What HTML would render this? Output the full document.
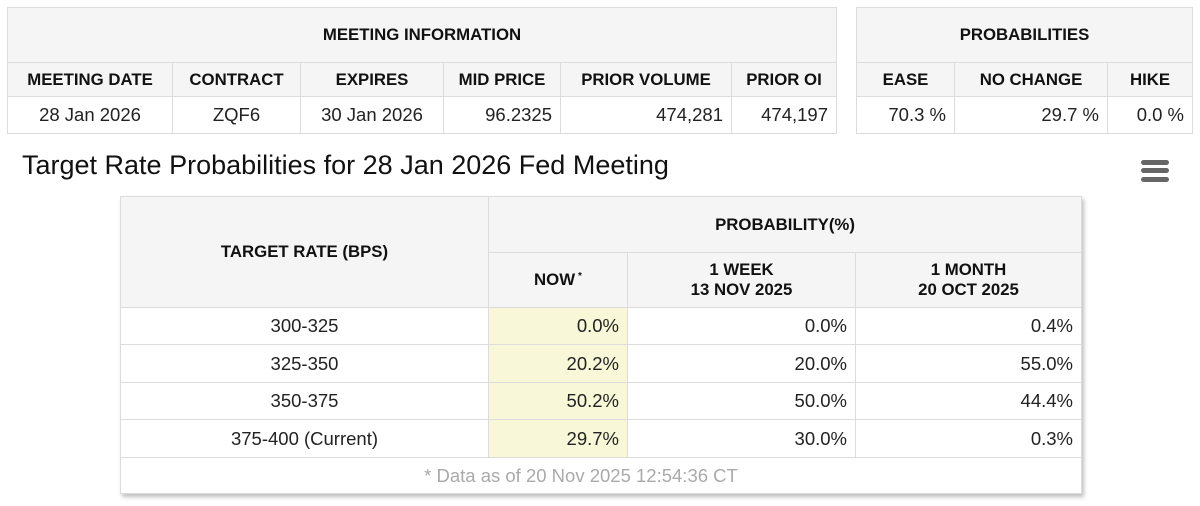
<!DOCTYPE html>
<html><head><meta charset="utf-8"><style>
body{margin:0;width:1200px;height:506px;background:#fff;position:relative;overflow:hidden;font-family:"Liberation Sans",Arial,sans-serif;color:#222}
.c{position:absolute;box-sizing:border-box;display:flex;align-items:center;justify-content:center;border:1px solid #dcdcdc;font-size:18.5px}
.h{background:#f5f5f5;font-weight:bold;font-size:16.8px;color:#111;text-align:center;line-height:20px}
.r{justify-content:flex-end;padding-right:8px}
.y{background:#f8f8d8}
</style></head><body>
<!-- table 1 -->
<div class="c h" style="left:7px;top:7px;width:830px;height:56px">MEETING INFORMATION</div>
<div class="c h" style="left:7px;top:62px;width:166px;height:35px">MEETING DATE</div>
<div class="c h" style="left:172px;top:62px;width:129px;height:35px">CONTRACT</div>
<div class="c h" style="left:300px;top:62px;width:144px;height:35px">EXPIRES</div>
<div class="c h" style="left:443px;top:62px;width:118px;height:35px">MID PRICE</div>
<div class="c h" style="left:560px;top:62px;width:172px;height:35px">PRIOR VOLUME</div>
<div class="c h" style="left:731px;top:62px;width:106px;height:35px">PRIOR OI</div>
<div class="c" style="left:7px;top:96px;width:166px;height:38px">28 Jan 2026</div>
<div class="c" style="left:172px;top:96px;width:129px;height:38px">ZQF6</div>
<div class="c" style="left:300px;top:96px;width:144px;height:38px">30 Jan 2026</div>
<div class="c r" style="left:443px;top:96px;width:118px;height:38px">96.2325</div>
<div class="c r" style="left:560px;top:96px;width:172px;height:38px">474,281</div>
<div class="c r" style="left:731px;top:96px;width:106px;height:38px">474,197</div>
<!-- table 2 -->
<div class="c h" style="left:856px;top:7px;width:337px;height:56px">PROBABILITIES</div>
<div class="c h" style="left:856px;top:62px;width:99px;height:35px">EASE</div>
<div class="c h" style="left:954px;top:62px;width:154px;height:35px">NO CHANGE</div>
<div class="c h" style="left:1107px;top:62px;width:86px;height:35px">HIKE</div>
<div class="c r" style="left:856px;top:96px;width:99px;height:38px">70.3 %</div>
<div class="c r" style="left:954px;top:96px;width:154px;height:38px">29.7 %</div>
<div class="c r" style="left:1107px;top:96px;width:86px;height:38px">0.0 %</div>
<!-- title -->
<div style="position:absolute;left:22px;top:150px;font-size:27px;color:#111;white-space:nowrap">Target Rate Probabilities for 28 Jan 2026 Fed Meeting</div>
<div style="position:absolute;left:1141px;top:160px;width:28px;height:5px;background:#666;border-radius:3px"></div>
<div style="position:absolute;left:1141px;top:168px;width:28px;height:5px;background:#666;border-radius:3px"></div>
<div style="position:absolute;left:1141px;top:177px;width:28px;height:5px;background:#666;border-radius:3px"></div>
<!-- table 3 -->
<div style="position:absolute;left:120px;top:196px;width:962px;height:298px;box-shadow:2px 3px 4px rgba(0,0,0,0.25)"></div>
<div class="c h" style="left:120px;top:196px;width:369px;height:112px">TARGET RATE (BPS)</div>
<div class="c h" style="left:488px;top:196px;width:594px;height:57px">PROBABILITY(%)</div>
<div class="c h" style="left:488px;top:252px;width:140px;height:56px">NOW<sup style="font-size:10px;position:relative;top:-3px;margin-left:3px">*</sup></div>
<div class="c h" style="left:627px;top:252px;width:229px;height:56px">1 WEEK<br>13 NOV 2025</div>
<div class="c h" style="left:855px;top:252px;width:227px;height:56px">1 MONTH<br>20 OCT 2025</div>

<div class="c" style="left:120px;top:307px;width:369px;height:38px">300-325</div>
<div class="c r y" style="left:488px;top:307px;width:140px;height:38px">0.0%</div>
<div class="c r" style="left:627px;top:307px;width:229px;height:38px">0.0%</div>
<div class="c r" style="left:855px;top:307px;width:227px;height:38px">0.4%</div>

<div class="c" style="left:120px;top:344px;width:369px;height:39px">325-350</div>
<div class="c r y" style="left:488px;top:344px;width:140px;height:39px">20.2%</div>
<div class="c r" style="left:627px;top:344px;width:229px;height:39px">20.0%</div>
<div class="c r" style="left:855px;top:344px;width:227px;height:39px">55.0%</div>

<div class="c" style="left:120px;top:382px;width:369px;height:38px">350-375</div>
<div class="c r y" style="left:488px;top:382px;width:140px;height:38px">50.2%</div>
<div class="c r" style="left:627px;top:382px;width:229px;height:38px">50.0%</div>
<div class="c r" style="left:855px;top:382px;width:227px;height:38px">44.4%</div>

<div class="c" style="left:120px;top:419px;width:369px;height:39px">375-400 (Current)</div>
<div class="c r y" style="left:488px;top:419px;width:140px;height:39px">29.7%</div>
<div class="c r" style="left:627px;top:419px;width:229px;height:39px">30.0%</div>
<div class="c r" style="left:855px;top:419px;width:227px;height:39px">0.3%</div>

<div class="c" style="left:120px;top:457px;width:962px;height:37px;color:#aaa;background:#fff;padding-right:40px">* Data as of 20 Nov 2025 12:54:36 CT</div>
</body></html>
